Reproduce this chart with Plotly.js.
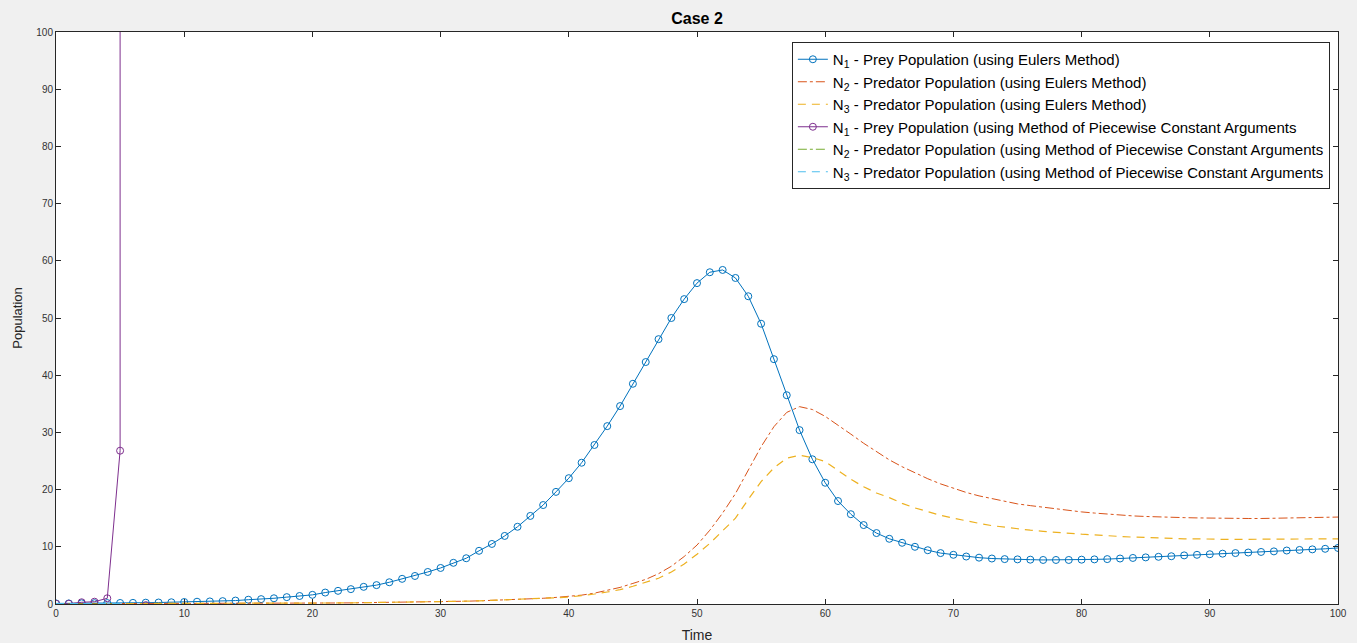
<!DOCTYPE html>
<html>
<head>
<meta charset="utf-8">
<script src="https://cdn.plot.ly/plotly-3.0.1.min.js"></script>
<style>html,body{margin:0;padding:0;background:#f0f0f0;}#chart{width:1357px;height:643px;}</style>
</head>
<body>
<div id="chart"></div>
<script>
// Time points (Euler method, step 1)
const timeEuler = Array.from({length: 101}, (_, i) => i);

// N1 - prey population (Euler)
const n1Euler = [
  0.10,0.10,0.12,0.14,0.16,0.18,0.20,0.23,0.26,0.30,
  0.35,0.40,0.45,0.50,0.60,0.75,0.85,1.00,1.20,1.40,
  1.60,2.00,2.30,2.60,3.00,3.30,3.80,4.40,4.90,5.60,
  6.30,7.20,8.00,9.30,10.5,11.9,13.5,15.4,17.3,19.6,
  22.0,24.7,27.8,31.1,34.6,38.5,42.3,46.3,50.0,53.3,
  56.1,58.0,58.4,57.0,53.8,49.0,42.8,36.5,30.4,25.3,
  21.2,18.0,15.7,13.8,12.4,11.4,10.7,10.0,9.40,8.90,
  8.60,8.30,8.10,7.95,7.85,7.80,7.75,7.70,7.70,7.70,
  7.75,7.80,7.85,7.95,8.05,8.15,8.25,8.35,8.50,8.60,
  8.70,8.80,8.90,9.00,9.10,9.20,9.35,9.45,9.55,9.65,
  9.80
];

// N2 - predator population (Euler)
const n2Euler = [
  0.05,0.05,0.05,0.05,0.05,0.05,0.06,0.06,0.07,0.07,
  0.08,0.08,0.09,0.09,0.10,0.10,0.11,0.12,0.13,0.14,
  0.15,0.16,0.18,0.20,0.22,0.25,0.28,0.31,0.34,0.37,
  0.40,0.44,0.49,0.55,0.62,0.70,0.78,0.88,1.00,1.15,
  1.30,1.55,1.90,2.35,2.90,3.60,4.30,5.30,6.60,8.30,
  10.3,12.9,15.9,19.3,23.5,27.5,31.0,33.5,34.5,34.0,
  32.8,31.3,29.7,28.1,26.6,25.2,24.0,22.9,21.9,21.0,
  20.2,19.5,18.9,18.4,17.9,17.5,17.2,16.9,16.6,16.3,
  16.1,15.9,15.7,15.5,15.4,15.3,15.2,15.15,15.1,15.05,
  15.0,14.98,14.95,14.95,14.95,14.97,15.0,15.05,15.1,15.15,
  15.2
];

// N3 - predator population (Euler)
const n3Euler = [
  0.05,0.05,0.05,0.05,0.05,0.05,0.06,0.06,0.07,0.07,
  0.08,0.08,0.09,0.09,0.10,0.10,0.11,0.12,0.13,0.14,
  0.15,0.16,0.18,0.20,0.22,0.25,0.28,0.31,0.34,0.37,
  0.40,0.44,0.49,0.55,0.62,0.70,0.78,0.88,1.00,1.10,
  1.20,1.45,1.75,2.10,2.50,3.10,3.80,4.50,5.60,7.00,
  8.70,10.6,12.8,15.0,18.3,21.4,23.8,25.5,26.0,25.6,
  24.9,23.4,21.8,20.5,19.4,18.6,17.6,16.8,16.1,15.5,
  15.0,14.5,14.1,13.7,13.4,13.1,12.9,12.7,12.5,12.3,
  12.2,12.1,11.9,11.8,11.7,11.6,11.5,11.5,11.4,11.4,
  11.3,11.3,11.3,11.3,11.3,11.3,11.3,11.35,11.35,11.4,
  11.4
];

// Method of Piecewise Constant Arguments (diverges after t = 5; gap before t = 7)
const timeMPCA = [0, 1, 2, 3, 4, 5, 6, 6, 7];
const n1MPCA = [0.05, 0.05, 0.3, 0.4, 1.0, 26.8, 1e6, null, -0.2];
const timeMPCAShort = [0, 1, 2, 3, 4, 5];
const n2MPCA = [0.02, 0.02, 0.02, 0.02, 0.02, 0.02];
const n3MPCA = [0.05, 0.05, 0.05, 0.05, 0.05, 0.05];

const legendNames = [
  'N<sub>1</sub> - Prey Population (using Eulers Method)',
  'N<sub>2</sub> - Predator Population (using Eulers Method)',
  'N<sub>3</sub> - Predator Population (using Eulers Method)',
  'N<sub>1</sub> - Prey Population (using Method of Piecewise Constant Arguments',
  'N<sub>2</sub> - Predator Population (using Method of Piecewise Constant Arguments',
  'N<sub>3</sub> - Predator Population (using Method of Piecewise Constant Arguments'
];

const traces = [
  {x: timeEuler, y: n1Euler, name: legendNames[0], mode: 'lines+markers',
   line: {color: '#0072BD', width: 1},
   marker: {symbol: 'circle-open', size: 7, color: '#0072BD', line: {width: 1}}},
  {x: timeEuler, y: n2Euler, name: legendNames[1], mode: 'lines',
   line: {color: '#D95319', width: 1, dash: 'dashdot'}},
  {x: timeEuler, y: n3Euler, name: legendNames[2], mode: 'lines',
   line: {color: '#EDB120', width: 1.2, dash: '8px,6px'}},
  {x: timeMPCA, y: n1MPCA, name: legendNames[3], mode: 'lines+markers',
   line: {color: '#7E2F8E', width: 1},
   marker: {symbol: 'circle-open', size: 7, color: '#7E2F8E', line: {width: 1}}},
  {x: timeMPCAShort, y: n2MPCA, name: legendNames[4], mode: 'lines',
   line: {color: '#77AC30', width: 1, dash: 'dashdot'}},
  {x: timeMPCAShort, y: n3MPCA, name: legendNames[5], mode: 'lines',
   line: {color: '#4DBEEE', width: 1.2, dash: '8px,6px'}}
];

const FONT = 'Liberation Sans, Arial, sans-serif';
const axisCommon = {
  showgrid: false, zeroline: false, showline: true, linecolor: '#262626', linewidth: 1,
  mirror: 'allticks', ticks: 'inside', ticklen: 5, tickcolor: '#262626',
  tickfont: {family: FONT, size: 10, color: '#333333'},
  dtick: 10, tick0: 0
};

const layout = {
  width: 1357, height: 643,
  paper_bgcolor: '#f0f0f0', plot_bgcolor: '#ffffff',
  margin: {l: 56, r: 19, t: 32, b: 39},
  title: {text: '<b>Case 2</b>', xref: 'paper', x: 0.5, xanchor: 'center',
          yref: 'container', y: 0.972, yanchor: 'middle',
          font: {family: FONT, size: 16, color: '#000'}},
  xaxis: Object.assign({}, axisCommon, {range: [0, 100], title: {text: 'Time', standoff: 13,
          font: {family: FONT, size: 14, color: '#262626'}}}),
  yaxis: Object.assign({}, axisCommon, {range: [0, 100], title: {text: 'Population', standoff: 10,
          font: {family: FONT, size: 13, color: '#262626'}}}),
  showlegend: true,
  legend: {x: 0.574, y: 0.9825, xanchor: 'left', yanchor: 'top',
           bgcolor: '#ffffff', bordercolor: '#262626', borderwidth: 1,
           font: {family: FONT, size: 15, color: '#000'},
           tracegroupgap: 0, itemwidth: 30}
};

Plotly.newPlot('chart', traces, layout, {displayModeBar: false, staticPlot: true});
</script>
</body>
</html>
